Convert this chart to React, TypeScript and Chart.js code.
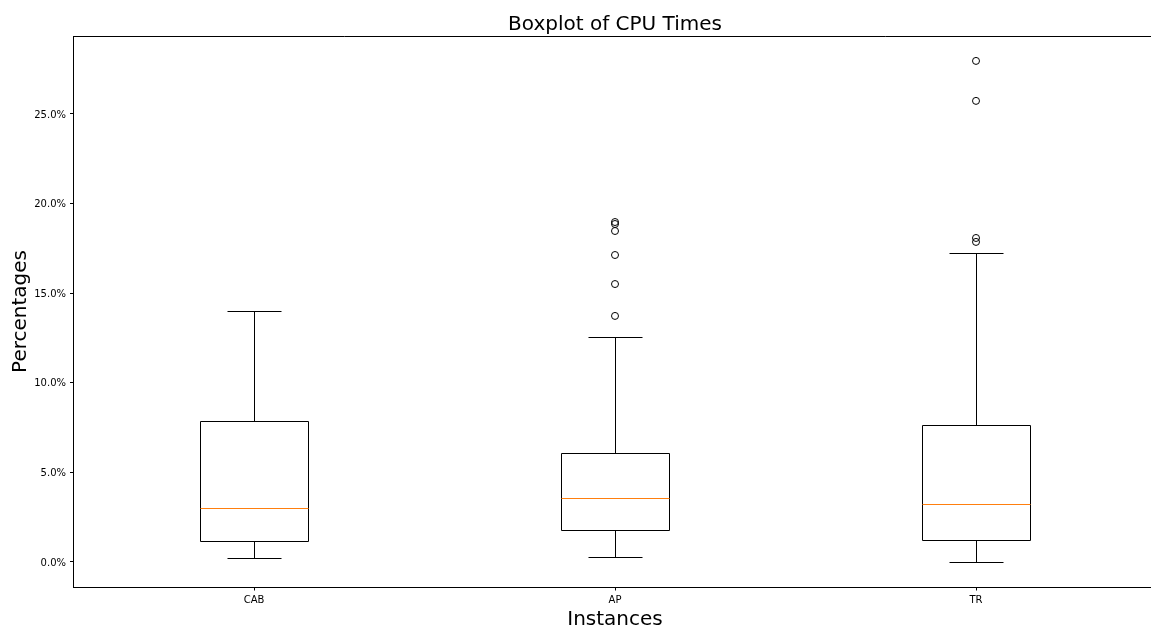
import React, { useEffect, useRef } from "react";
import { Chart, registerables } from "chart.js";

Chart.register(...registerables);

const categories = ["CAB", "AP", "TR"];
const whiskerLow = [0.22, 0.28, 0.0];
const q1 = [1.17, 1.79, 1.23];
const median = [3.01, 3.57, 3.24];
const q3 = [7.87, 6.08, 7.65];
const whiskerHigh = [14.0, 12.56, 17.24];
const outliersCAB: number[] = [];
const outliersAP = [13.73, 15.51, 17.13, 18.47, 18.86, 18.97];
const outliersTR = [17.86, 18.08, 25.73, 27.96];
const yTicks = [0, 5, 10, 15, 20, 25];

const FONT = "'DejaVu Sans', sans-serif";

const boxPlugin = {
  id: "boxDraw",
  afterDatasetsDraw(chart: any) {
    const { ctx, chartArea, scales } = chart;
    const xs = scales.x;
    const ys = scales.y;
    ctx.save();
    ctx.strokeStyle = "#000";
    ctx.lineWidth = 1;
    ctx.beginPath();
    ctx.moveTo(chartArea.left, Math.round(chartArea.top) + 0.5);
    ctx.lineTo(chartArea.right, Math.round(chartArea.top) + 0.5);
    ctx.moveTo(Math.round(chartArea.right) + 0.5, chartArea.top);
    ctx.lineTo(Math.round(chartArea.right) + 0.5, chartArea.bottom);
    ctx.stroke();
    const r = (v: number) => Math.round(v) + 0.5;
    categories.forEach((_, i) => {
      const c = xs.getPixelForValue(i + 1);
      const bl = xs.getPixelForValue(i + 1 - 0.15);
      const br = xs.getPixelForValue(i + 1 + 0.15);
      const cl = xs.getPixelForValue(i + 1 - 0.075);
      const cr = xs.getPixelForValue(i + 1 + 0.075);
      const yq1 = ys.getPixelForValue(q1[i]);
      const yq3 = ys.getPixelForValue(q3[i]);
      const ylo = ys.getPixelForValue(whiskerLow[i]);
      const yhi = ys.getPixelForValue(whiskerHigh[i]);
      const ymed = ys.getPixelForValue(median[i]);
      ctx.strokeStyle = "#000";
      ctx.lineWidth = 1;
      ctx.beginPath();
      ctx.rect(r(bl), r(yq3), Math.round(br - bl), Math.round(yq1 - yq3));
      ctx.moveTo(r(c), r(yq3));
      ctx.lineTo(r(c), r(yhi));
      ctx.moveTo(r(c), r(yq1));
      ctx.lineTo(r(c), r(ylo));
      ctx.moveTo(r(cl), r(yhi));
      ctx.lineTo(r(cr), r(yhi));
      ctx.moveTo(r(cl), r(ylo));
      ctx.lineTo(r(cr), r(ylo));
      ctx.stroke();
      ctx.strokeStyle = "#ff7f0e";
      ctx.beginPath();
      ctx.moveTo(r(bl), r(ymed));
      ctx.lineTo(r(br), r(ymed));
      ctx.stroke();
    });
    ctx.restore();
  },
};

export default function App() {
  const ref = useRef<HTMLCanvasElement | null>(null);
  useEffect(() => {
    if (!ref.current) return;
    const outlierSets = [outliersCAB, outliersAP, outliersTR];
    const points = outlierSets.flatMap((arr, i) => arr.map((y) => ({ x: i + 1, y })));
    const chart = new Chart(ref.current, {
      type: "scatter",
      data: {
        datasets: [
          {
            data: points,
            pointStyle: "circle",
            pointRadius: 3.5,
            pointHoverRadius: 3.5,
            borderColor: "#000",
            backgroundColor: "rgba(0,0,0,0)",
            borderWidth: 1,
            showLine: false,
          },
        ],
      },
      options: {
        animation: false,
        responsive: false,
        devicePixelRatio: 1,
        layout: { padding: 0 },
        plugins: {
          legend: { display: false },
          tooltip: { enabled: false },
          title: {
            display: true,
            text: "Boxplot of CPU Times",
            color: "#000",
            font: { family: FONT, size: 20, weight: "normal", lineHeight: 1.0 },
            padding: { top: 15, bottom: 1 },
          },
        },
        scales: {
          x: {
            type: "linear",
            min: 0.5,
            max: 3.5,
            afterBuildTicks: (scale: any) => {
              scale.ticks = categories.map((_, i) => ({ value: i + 1 }));
            },
            afterFit: (scale: any) => {
              scale.height = 41;
            },
            ticks: {
              color: "#000",
              font: { family: FONT, size: 10 },
              padding: 4,
              maxRotation: 0,
              callback: (v: any) => categories[Math.round(v) - 1] ?? "",
            },
            grid: { display: true, drawOnChartArea: false, drawTicks: true, tickLength: 3.5, color: "#000" },
            border: { display: true, color: "#000", width: 1 },
            title: {
              display: true,
              text: "Instances",
              color: "#000",
              font: { family: FONT, size: 20, lineHeight: 0.8 },
              padding: { top: 0, bottom: 0 },
            },
          },
          y: {
            type: "linear",
            position: "left",
            min: -1.395,
            max: 29.35,
            afterBuildTicks: (scale: any) => {
              scale.ticks = yTicks.map((v) => ({ value: v }));
            },
            afterFit: (scale: any) => {
              scale.width = 73.5;
            },
            ticks: {
              color: "#000",
              font: { family: FONT, size: 10 },
              padding: 4,
              labelOffset: 1,
              callback: (v: any) => `${Number(v).toFixed(1)}%`,
            },
            grid: { display: true, drawOnChartArea: false, drawTicks: true, tickLength: 3.5, color: "#000" },
            border: { display: true, color: "#000", width: 1 },
            title: {
              display: true,
              text: "Percentages",
              color: "#000",
              font: { family: FONT, size: 20, lineHeight: 1 },
              padding: { top: 11, bottom: 0 },
            },
          },
          yRight: {
            type: "linear",
            position: "right",
            min: -1.395,
            max: 29.35,
            afterFit: (scale: any) => {
              scale.width = 73.5;
            },
            ticks: { display: false },
            grid: { display: false },
            border: { display: false },
          },
        },
      },
      plugins: [boxPlugin],
    } as any);
    return () => chart.destroy();
  }, []);
  return (
    <div style={{ position: "absolute", left: 0, top: 0, width: 1151, height: 628, overflow: "hidden", background: "#fff" }}>
      <canvas ref={ref} width={1230} height={628} style={{ display: "block", width: 1230, height: 628 }} />
    </div>
  );
}
